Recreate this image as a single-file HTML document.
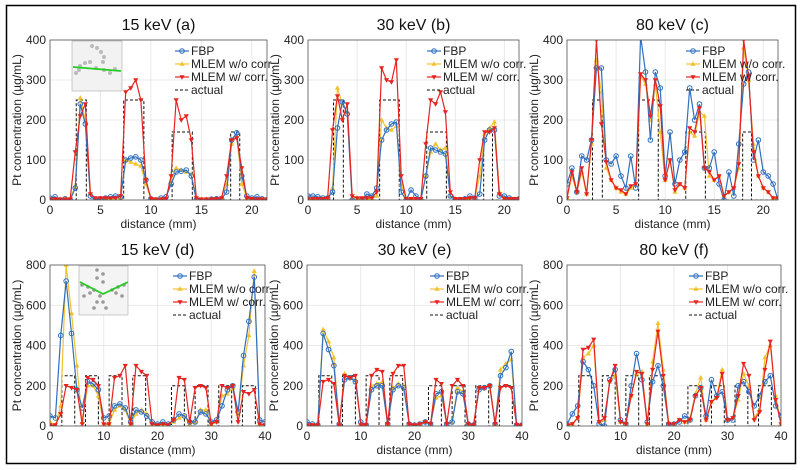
<!DOCTYPE html>
<html><head><meta charset="utf-8"><style>
html,body{margin:0;padding:0;background:#fff;}
svg{display:block;font-family:"Liberation Sans",Arial,sans-serif;}
</style></head><body>
<svg id="fig" width="800" height="470" viewBox="0 0 800 470">
<rect x="6.5" y="5.5" width="789" height="458" fill="#fff" stroke="#000" stroke-width="1.5"/>
</svg>
<script>
// ---------- data ----------
const xsTop = [0,0.5,1,1.5,2,2.5,3,3.5,4,4.5,5,5.5,6,6.5,7,7.5,8,8.5,9,9.5,10,10.5,11,11.5,12,12.5,13,13.5,14,14.5,15,15.5,16,16.5,17,17.5,18,18.5,19,19.5,20,20.5,21,21.5];
const xsBot = [0,1,2,3,4,5,6,7,8,9,10,11,12,13,14,15,16,17,18,19,20,21,22,23,24,25,26,27,28,29,30,31,32,33,34,35,36,37,38,39,40];
const topTicksX = [0,5,10,15,20];
const botTicksX = [0,10,20,30,40];
const topTicksY = [0,100,200,300,400];
const botTicksY = [0,200,400,600,800];

const topBlockStart = [2.6,7.3,12.1,17.9];
const topBlockEnd   = [3.6,9.3,14.1,18.8];
const topBlockLevel = [250,250,170,170];
const botBlockStart = [2.2,6.6,11.0,15.4,22.6,27.0,31.4,35.8];
const botBlockEnd   = [4.6,9.0,13.4,17.8,25.0,29.4,33.8,38.2];
const botBlockLevel = [250,250,250,250,200,200,200,200];

const aFBP = [5,8,0,3,0,30,240,190,10,0, 3,5,8,10,8,100,105,108,100,50, 3,0,5,8,40,70,72,75,60,0, -3,0,2,3,3,20,150,168,60,10, 5,8,3,0];
const aWO  = [2,2,2,2,2,35,255,200,15,3, 3,3,3,3,5,100,95,90,85,40, 3,2,2,3,50,80,75,70,65,5, 2,2,2,3,5,40,140,160,40,5, 3,2,2,2];
const aW   = [2,2,2,2,2,120,210,240,15,5, 5,5,5,5,10,270,280,300,250,50, 3,2,2,3,60,250,200,210,150,5, 2,2,2,3,5,60,150,155,80,5, 3,2,2,2];

const bFBP = [10,10,8,5,5,20,180,245,215,0, -5,0,15,10,30,150,175,190,195,20, 0,25,10,0,60,130,125,120,115,10, 0,0,3,10,5,15,150,175,175,10, 10,5,0,3];
const bWO  = [3,3,3,3,5,30,280,240,220,5, 5,5,5,5,10,200,180,175,185,40, 3,3,3,3,60,120,140,125,130,10, 3,3,3,5,5,60,165,180,195,20, 3,3,3,3];
const bW   = [3,3,3,3,5,175,260,200,240,10, 5,5,5,5,20,330,300,295,350,60, 3,3,3,3,140,250,240,270,220,20, 3,3,3,5,5,100,170,170,180,15, 3,3,3,3];

const cFBP = [40,80,20,110,100,150,330,330,100,90, 110,60,30,110,30,410,320,150,320,280, 60,170,40,100,120,280,200,240,80,80, 120,40,0,70,10,140,290,320,100,150, 70,60,40,0];
const cWO  = [5,60,20,70,15,140,350,270,80,50, 30,20,15,30,40,310,290,200,290,170, 50,100,20,40,30,170,160,220,210,60, 50,60,10,20,30,80,380,300,140,60, 30,20,5,5];
const cW   = [5,70,20,80,15,150,400,190,95,50, 30,25,15,35,40,315,300,210,300,235, 50,100,25,40,30,180,170,230,80,70, 50,60,10,20,30,90,400,310,120,60, 30,20,5,5];

const dFBP = [50,40,450,720,460,180,90,220,210,180, 40,50,100,110,90,20,80,70,50,20, 10,20,10,30,60,50,20,20,70,60, 20,30,100,180,200,70,350,520,740,30, 20];
const dWO  = [20,5,100,800,560,300,20,200,200,150, 10,10,80,100,80,10,60,80,60,10, 5,10,5,20,40,50,10,20,80,80, 10,20,150,160,190,60,300,450,770,10, 5];
const dW   = [5,5,60,200,190,180,10,240,230,200, 10,10,240,250,300,10,300,270,250,10, 5,10,5,30,240,230,20,190,200,190, 10,20,200,190,200,20,170,160,180,10, 5];

const eFBP = [20,10,5,460,380,300,10,230,240,220, 20,5,180,200,200,10,180,200,190,10, 5,10,20,10,160,170,10,20,170,160, 10,5,180,190,200,10,250,290,370,5, 5];
const eWO  = [5,5,5,480,420,340,10,260,240,230, 10,5,200,210,220,10,190,210,200,10, 5,10,20,10,140,150,10,20,190,170, 10,5,190,190,200,10,280,310,330,5, 5];
const eW   = [5,5,5,220,230,210,5,250,240,250, 5,5,250,280,270,10,260,300,300,10, 5,10,20,10,230,210,10,200,230,200, 10,5,190,190,200,10,190,200,190,5, 5];

const fFBP = [10,60,100,320,280,200,10,0,230,280, 30,10,200,360,230,20,220,300,200,10, 10,20,50,30,150,190,50,230,150,170, 30,30,200,220,170,100,150,220,250,100, 50];
const fWO  = [5,10,40,340,360,400,20,30,220,250, 20,10,150,260,270,10,320,510,280,10, 10,30,20,40,160,240,30,120,150,280, 30,40,130,260,200,40,80,340,400,150, 10];
const fW   = [5,10,40,380,390,430,20,40,220,300, 20,10,150,270,260,10,280,470,250,10, 10,30,20,30,150,190,30,120,140,260, 30,40,150,310,250,30,70,280,420,130, 10];

const titles = ["15 keV (a)","30 keV (b)","80 keV (c)","15 keV (d)","30 keV (e)","80 keV (f)"];
const legendLabels = ["FBP","MLEM w/o corr.","MLEM w/ corr.","actual"];

// ---------- rendering ----------
const NS = "http://www.w3.org/2000/svg";
const svg = document.getElementById("fig");
const COL = {fbp:"#2f6fbf", wo:"#f2c12e", w:"#e8231f"};
function mk(tag, attrs, parent){
  const e = document.createElementNS(NS, tag);
  for (const k in attrs) e.setAttribute(k, attrs[k]);
  (parent||svg).appendChild(e);
  return e;
}
const panels = [
 {id:"a",L:50,R:267,T:40,B:200,xmax:21.5,ymax:400,xs:xsTop,tx:topTicksX,ty:topTicksY,s:[aFBP,aWO,aW],bs:topBlockStart,be:topBlockEnd,bl:topBlockLevel,title:titles[0],inset:1},
 {id:"b",L:308,R:519,T:40,B:200,xmax:21.5,ymax:400,xs:xsTop,tx:topTicksX,ty:topTicksY,s:[bFBP,bWO,bW],bs:topBlockStart,be:topBlockEnd,bl:topBlockLevel,title:titles[1]},
 {id:"c",L:567,R:778,T:40,B:200,xmax:21.5,ymax:400,xs:xsTop,tx:topTicksX,ty:topTicksY,s:[cFBP,cWO,cW],bs:topBlockStart,be:topBlockEnd,bl:topBlockLevel,title:titles[2]},
 {id:"d",L:50,R:265,T:265,B:426,xmax:40,ymax:800,xs:xsBot,tx:botTicksX,ty:botTicksY,s:[dFBP,dWO,dW],bs:botBlockStart,be:botBlockEnd,bl:botBlockLevel,title:titles[3],inset:2},
 {id:"e",L:307,R:522,T:265,B:426,xmax:40,ymax:800,xs:xsBot,tx:botTicksX,ty:botTicksY,s:[eFBP,eWO,eW],bs:botBlockStart,be:botBlockEnd,bl:botBlockLevel,title:titles[4]},
 {id:"f",L:567,R:781,T:265,B:426,xmax:40,ymax:800,xs:xsBot,tx:botTicksX,ty:botTicksY,s:[fFBP,fWO,fW],bs:botBlockStart,be:botBlockEnd,bl:botBlockLevel,title:titles[5]}
];
function marker(g, kind, x, y){
  let m;
  if (kind===0){ m = mk("circle",{cx:x,cy:y,r:2.3,fill:"none",stroke:COL.fbp,"stroke-width":1},g); }
  else if (kind===1){ m = mk("polygon",{points:`${x},${y-2.8} ${x-2.6},${y+1.8} ${x+2.6},${y+1.8}`,fill:COL.wo},g); }
  else { m = mk("polygon",{points:`${x},${y+2.8} ${x-2.6},${y-1.8} ${x+2.6},${y-1.8}`,fill:COL.w},g); }
  return m;
}
panels.forEach(p=>{
  const g = mk("g",{});
  
  
  const X = v => p.L + (p.R-p.L)*v/p.xmax;
  const Y = v => p.B - (p.B-p.T)*v/p.ymax;
  const bg = mk("rect",{x:p.L,y:p.T,width:p.R-p.L,height:p.B-p.T,fill:"#fff"},g);
  
  
  // grid
  p.tx.forEach(t=>{ const l=mk("line",{x1:X(t),x2:X(t),y1:p.T,y2:p.B,stroke:"#e4e4e4","stroke-width":0.8},g);
    
     });
  p.ty.forEach(t=>{ const l=mk("line",{x1:p.L,x2:p.R,y1:Y(t),y2:Y(t),stroke:"#e4e4e4","stroke-width":0.8},g);
    
     });
  // clip
  const cp = mk("clipPath",{id:"clip"+p.id},g);
  mk("rect",{x:p.L,y:p.T,width:p.R-p.L,height:p.B-p.T},cp);
  const dg = mk("g",{"clip-path":`url(#clip${p.id})`},g);
  // inset
  if (p.inset){
    const ig = mk("g",{},g);
    
    
    if (p.inset===1){
      mk("rect",{x:72,y:41,width:50,height:50,fill:"#f2f2f2",stroke:"#aaa","stroke-width":0.6},ig);
      [[92,46],[97,48],[101,52],[104,57],[103,62],[80,66],[85,63],[90,62],[96,68],[104,70],[110,73],[115,69],[76,73],[79,70]].forEach(d=>mk("circle",{cx:d[0],cy:d[1],r:2,fill:"#bbb"},ig));
      mk("line",{x1:73,y1:67,x2:121,y2:71,stroke:"#22cc22","stroke-width":1.8},ig);
    } else {
      mk("rect",{x:79,y:266,width:49,height:49,fill:"#f4f4f4",stroke:"#aaa","stroke-width":0.6},ig);
      [[97,270],[103,274],[97,278],[103,282],[82,285],[88,287],[94,290],[112,290],[118,287],[124,285],[84,296],[90,293],[116,293],[122,296],[100,296],[97,302],[103,302],[94,308],[106,308]].forEach(d=>mk("circle",{cx:d[0],cy:d[1],r:1.8,fill:"#999"},ig));
      mk("polyline",{points:"80,282 103,294 128,282",fill:"none",stroke:"#22cc22","stroke-width":1.8},ig);
    }
  }
  // actual step line
  let pts = [[0,0]];
  p.bs.forEach((s,i)=>{ pts.push([s,0],[s,p.bl[i]],[p.be[i],p.bl[i]],[p.be[i],0]); });
  pts.push([p.xmax,0]);
  const act = mk("polyline",{points:pts.map(q=>X(q[0])+","+Y(q[1])).join(" "),fill:"none",stroke:"#111","stroke-width":1,"stroke-dasharray":"3,2"},dg);
  
  
  // series
  const names=["fbp-series","mlem-without-corr-series","mlem-with-corr-series"];
  const cols=[COL.fbp,COL.wo,COL.w];
  [1,0,2].forEach(k=>{
    const sg = mk("g",{},dg);
    
    
    const vals = p.s[k];
    mk("polyline",{points:vals.map((v,i)=>X(p.xs[i])+","+Y(v)).join(" "),fill:"none",stroke:cols[k],"stroke-width":1.2},sg);
    vals.forEach((v,i)=>{ const m=marker(sg,k,X(p.xs[i]),Y(v));
      
       });
  });
  // axes box
  const box = mk("rect",{x:p.L,y:p.T,width:p.R-p.L,height:p.B-p.T,fill:"none",stroke:"#555","stroke-width":0.8},g);
  
  
  // ticks
  p.tx.forEach(t=>{ const tl=mk("text",{x:X(t),y:p.B+14,"text-anchor":"middle","font-size":12,fill:"#222"},g); tl.textContent=t;
    
     });
  p.ty.forEach(t=>{ const tl=mk("text",{x:p.L-4,y:Y(t)+4,"text-anchor":"end","font-size":12,fill:"#222"},g); tl.textContent=t;
    
     });
  const xl = mk("text",{x:(p.L+p.R)/2,y:p.B+28,"text-anchor":"middle","font-size":12,fill:"#222"},g);
  xl.textContent = "distance (mm)";
  
  
  const yl = mk("text",{x:0,y:0,"text-anchor":"middle","font-size":12,fill:"#222",transform:`translate(${p.L-29},${(p.T+p.B)/2}) rotate(-90)`},g);
  yl.textContent = "Pt concentration (µg/mL)";
  
  
  const tt = mk("text",{x:(p.L+p.R)/2,y:p.T-10,"text-anchor":"middle","font-size":16,fill:"#111"},g);
  tt.textContent = p.title;
  
  
  // legend
  const lg = mk("g",{},g);
  
  
  const lx = p.R-92, ty0 = p.T+11;
  legendLabels.forEach((lab,i)=>{
    const y = ty0 + i*13;
    const e = mk("g",{},lg);
    
    
    if (i<3){
      mk("line",{x1:lx,x2:lx+14,y1:y,y2:y,stroke:cols[i],"stroke-width":1.2},e);
      marker(e,i,lx+7,y);
    } else {
      mk("line",{x1:lx,x2:lx+14,y1:y,y2:y,stroke:"#111","stroke-width":1,"stroke-dasharray":"3,2"},e);
    }
    const t = mk("text",{x:lx+16,y:y+4,"font-size":12,fill:"#222"},e);
    t.textContent = lab;
  });
});
</script>
</body></html>
